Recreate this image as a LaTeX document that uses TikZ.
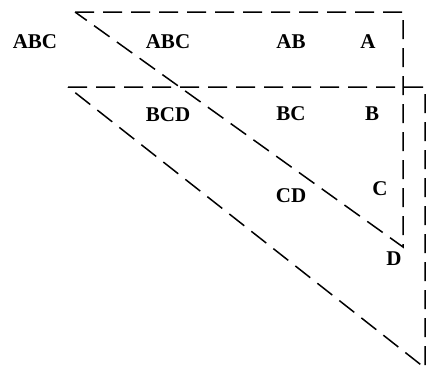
\documentclass[tikz,border=0pt]{standalone}
\usepackage{fontspec}
\setmainfont{Liberation Serif}
\begin{document}
\begin{tikzpicture}[x=1pt,y=-1pt,
  edge/.style={line width=1.5pt, dash pattern=on 19pt off 9pt},
  lbl/.style={font=\fontsize{21}{25}\selectfont\bfseries, inner sep=0pt}]
\useasboundingbox (0,0) rectangle (431,370);
% corners of the upper triangle
\coordinate (p1) at (75,12);
\coordinate (p2) at (403,12);
\coordinate (p3) at (403,247);
% corners of the lower triangle
\coordinate (q1) at (68,87);
\coordinate (q2) at (425,87);
\coordinate (q3) at (425,368);
\draw[edge] (p1) -- (p2) -- (p3) -- cycle;
\draw[edge] (q1) -- (q2) -- (q3) -- cycle;
% labels
\node[lbl] (abcout) at (35,42) {ABC};
\node[lbl] (abc) at (168,42) {ABC};
\node[lbl] (ab) at (291,42) {AB};
\node[lbl] (a) at (368,42) {A};
\node[lbl] (bcd) at (168,115) {BCD};
\node[lbl] (bc) at (291,114) {BC};
\node[lbl] (b) at (372,114) {B};
\node[lbl] (c) at (380,189) {C};
\node[lbl] (cd) at (291,196) {CD};
\node[lbl] (d) at (394,259) {D};
\end{tikzpicture}
\end{document}
